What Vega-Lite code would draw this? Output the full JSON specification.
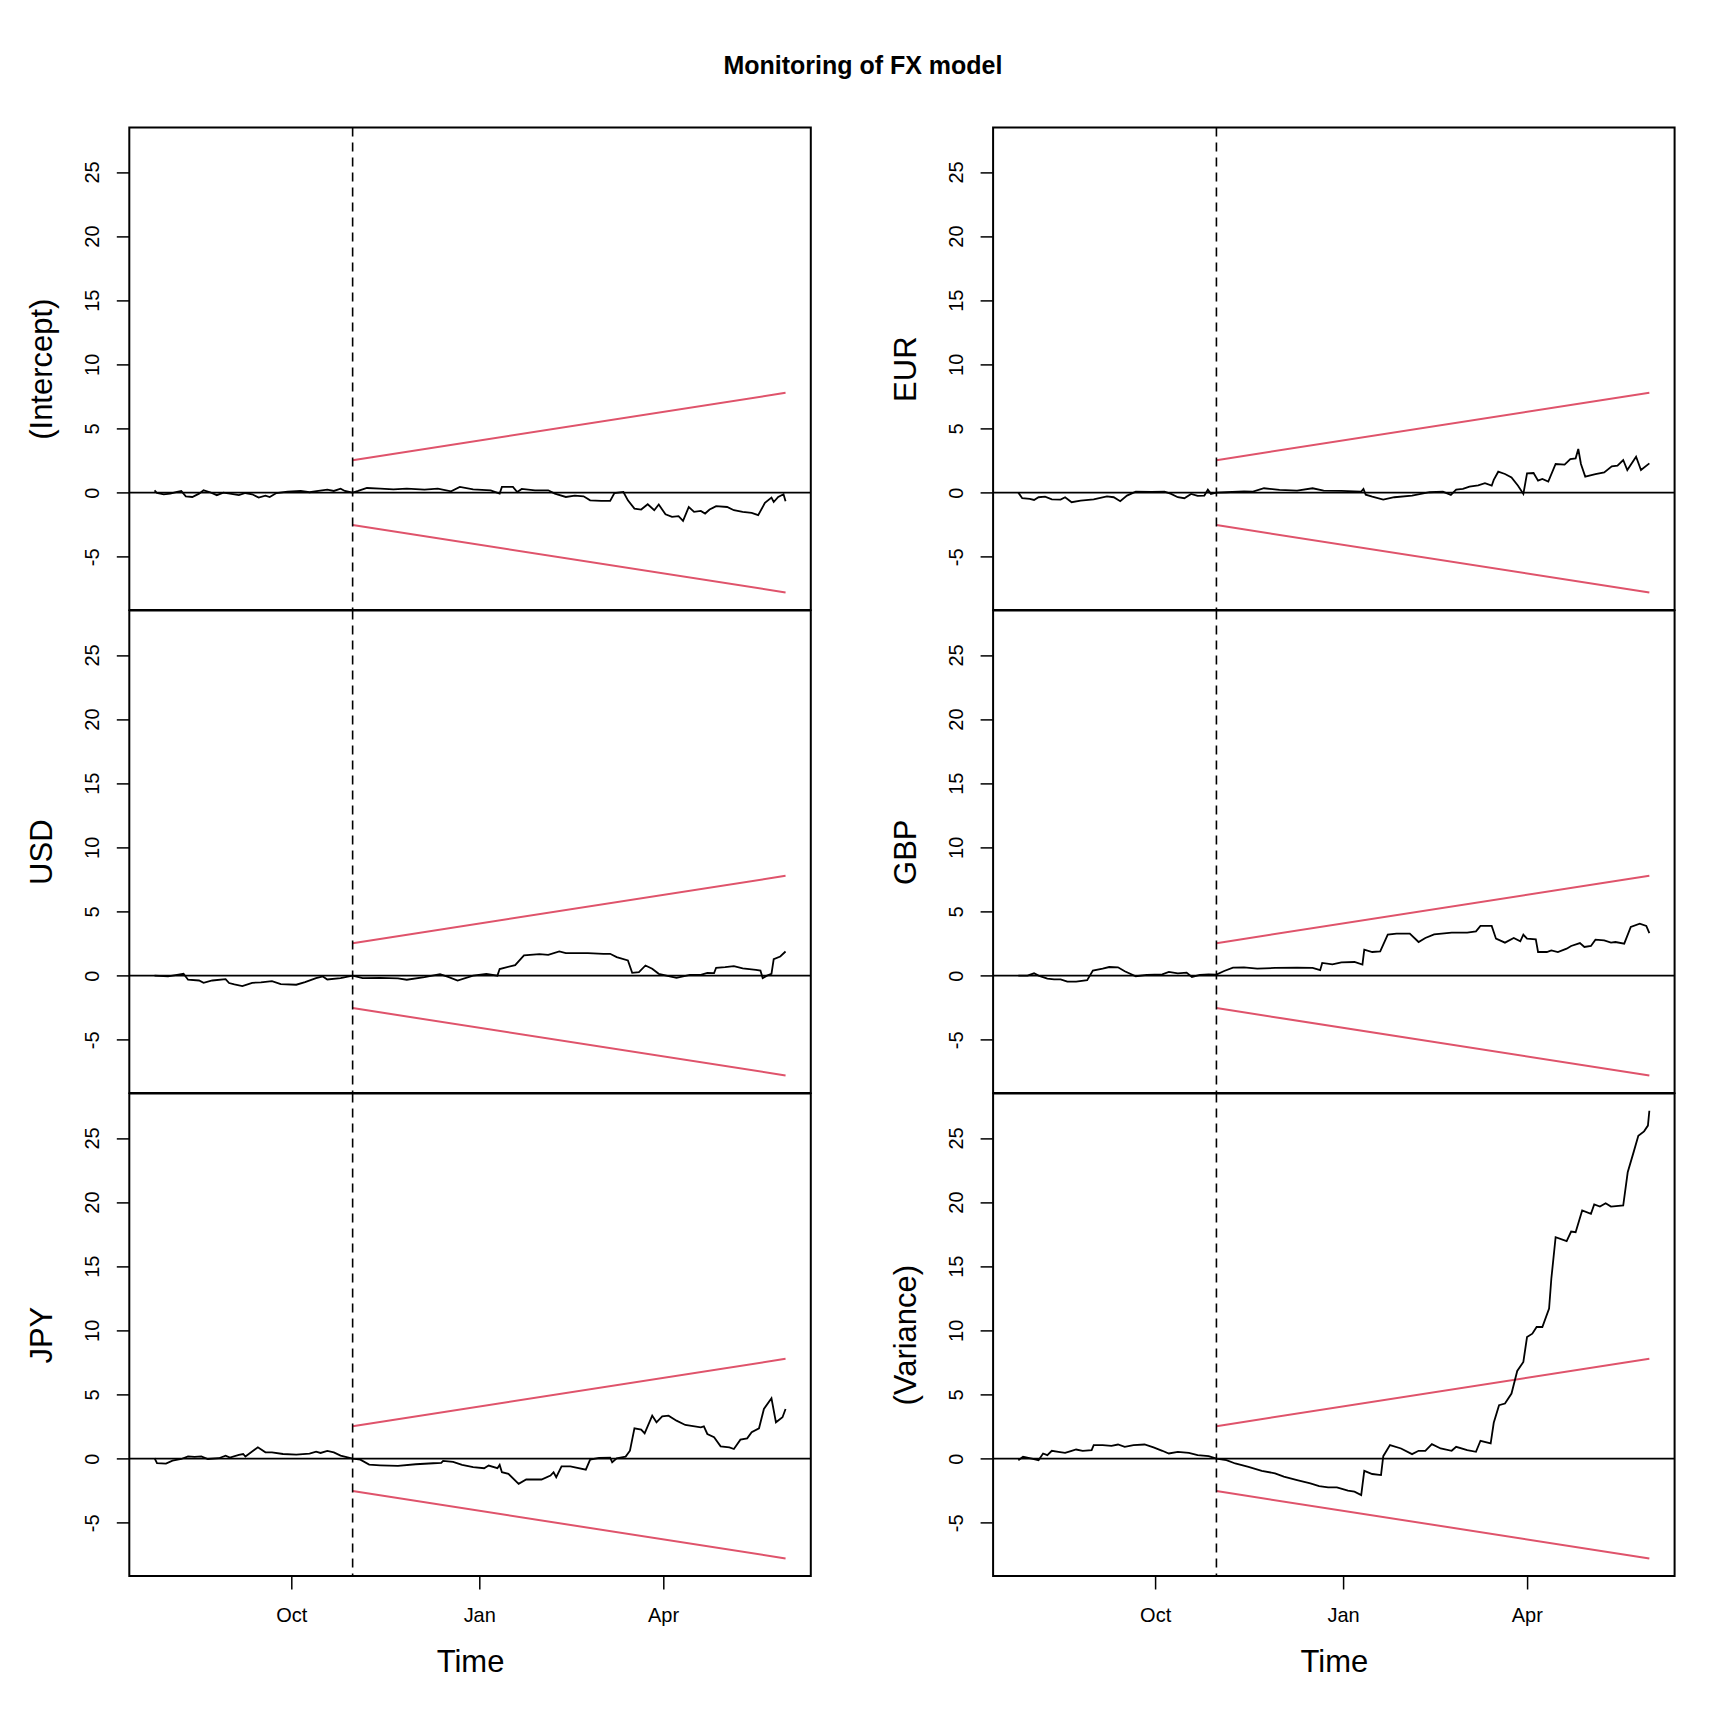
{
  "$schema": "https://vega.github.io/schema/vega-lite/v6.json",
  "background": "white",
  "padding": {"left": 25.3, "top": 53.4, "right": 10, "bottom": 10},
  "title": {
    "text": "Monitoring of FX model",
    "font": "Liberation Sans",
    "fontSize": 25,
    "fontWeight": "bold",
    "color": "black",
    "anchor": "middle",
    "baseline": "alphabetic",
    "offset": 26.7,
    "dx": 12
  },
  "config": {
    "view": {"stroke": "black", "strokeWidth": 2},
    "axis": {
      "labelFont": "Liberation Sans",
      "titleFont": "Liberation Sans",
      "labelFontSize": 20,
      "titleFontSize": 31,
      "titleFontWeight": "normal",
      "labelColor": "black",
      "titleColor": "black",
      "tickColor": "black",
      "tickSize": 13,
      "tickWidth": 1.5,
      "domain": false,
      "grid": false
    },
    "axisY": {
      "labelAngle": -90,
      "labelAlign": "center",
      "labelBaseline": "alphabetic",
      "labelPadding": 18,
      "titlePadding": 31,
      "titleBaseline": "alphabetic",
      "labelExpr": "datum.value < 0 ? '-' + abs(datum.value) : datum.label"
    },
    "axisX": {"labelPadding": 17, "titlePadding": 22}
  },
  "datasets": {
    "bound": [
      {"b": "upper", "d": 97, "v": 2.53},
      {"b": "upper", "d": 309, "v": 7.78},
      {"b": "lower", "d": 97, "v": -2.53},
      {"b": "lower", "d": 309, "v": -7.78}
    ],
    "fx": [
      {"p": "(Intercept)", "d": 0, "v": 0.18},
      {"p": "(Intercept)", "d": 1.2, "v": -0.03},
      {"p": "(Intercept)", "d": 4.5, "v": -0.13},
      {"p": "(Intercept)", "d": 7.7, "v": -0.08},
      {"p": "(Intercept)", "d": 11.0, "v": 0.05},
      {"p": "(Intercept)", "d": 13.1, "v": 0.13},
      {"p": "(Intercept)", "d": 15.3, "v": -0.29},
      {"p": "(Intercept)", "d": 18.5, "v": -0.34},
      {"p": "(Intercept)", "d": 21.8, "v": -0.08},
      {"p": "(Intercept)", "d": 24.0, "v": 0.18},
      {"p": "(Intercept)", "d": 27.2, "v": 0.03},
      {"p": "(Intercept)", "d": 30.5, "v": -0.2},
      {"p": "(Intercept)", "d": 33.7, "v": 0},
      {"p": "(Intercept)", "d": 36.9, "v": -0.08},
      {"p": "(Intercept)", "d": 41.3, "v": -0.2},
      {"p": "(Intercept)", "d": 44.5, "v": -0.03},
      {"p": "(Intercept)", "d": 47.8, "v": -0.13},
      {"p": "(Intercept)", "d": 51.0, "v": -0.39},
      {"p": "(Intercept)", "d": 54.3, "v": -0.23},
      {"p": "(Intercept)", "d": 56.4, "v": -0.34},
      {"p": "(Intercept)", "d": 59.7, "v": -0.03},
      {"p": "(Intercept)", "d": 65.1, "v": 0.08},
      {"p": "(Intercept)", "d": 71.6, "v": 0.13},
      {"p": "(Intercept)", "d": 75.9, "v": 0.03},
      {"p": "(Intercept)", "d": 80.2, "v": 0.13},
      {"p": "(Intercept)", "d": 84.6, "v": 0.23},
      {"p": "(Intercept)", "d": 87.8, "v": 0.13},
      {"p": "(Intercept)", "d": 91.1, "v": 0.31},
      {"p": "(Intercept)", "d": 93.2, "v": 0.13},
      {"p": "(Intercept)", "d": 97, "v": 0},
      {"p": "(Intercept)", "d": 99.7, "v": 0.13},
      {"p": "(Intercept)", "d": 104.0, "v": 0.36},
      {"p": "(Intercept)", "d": 110.5, "v": 0.31},
      {"p": "(Intercept)", "d": 117.0, "v": 0.26},
      {"p": "(Intercept)", "d": 123.5, "v": 0.31},
      {"p": "(Intercept)", "d": 132.2, "v": 0.23},
      {"p": "(Intercept)", "d": 138.7, "v": 0.31},
      {"p": "(Intercept)", "d": 145.2, "v": 0.1},
      {"p": "(Intercept)", "d": 149.5, "v": 0.44},
      {"p": "(Intercept)", "d": 156.0, "v": 0.26},
      {"p": "(Intercept)", "d": 164.6, "v": 0.18},
      {"p": "(Intercept)", "d": 169.0, "v": -0.08},
      {"p": "(Intercept)", "d": 170.1, "v": 0.44},
      {"p": "(Intercept)", "d": 175.5, "v": 0.44},
      {"p": "(Intercept)", "d": 177.6, "v": 0.05},
      {"p": "(Intercept)", "d": 179.8, "v": 0.29},
      {"p": "(Intercept)", "d": 186.3, "v": 0.18},
      {"p": "(Intercept)", "d": 192.8, "v": 0.18},
      {"p": "(Intercept)", "d": 196.0, "v": -0.08},
      {"p": "(Intercept)", "d": 201.4, "v": -0.34},
      {"p": "(Intercept)", "d": 205.8, "v": -0.23},
      {"p": "(Intercept)", "d": 210.1, "v": -0.29},
      {"p": "(Intercept)", "d": 213.3, "v": -0.6},
      {"p": "(Intercept)", "d": 218.7, "v": -0.65},
      {"p": "(Intercept)", "d": 223.1, "v": -0.65},
      {"p": "(Intercept)", "d": 225.2, "v": -0.03},
      {"p": "(Intercept)", "d": 229.6, "v": 0.05},
      {"p": "(Intercept)", "d": 231.8, "v": -0.6},
      {"p": "(Intercept)", "d": 235.0, "v": -1.25},
      {"p": "(Intercept)", "d": 238.3, "v": -1.32},
      {"p": "(Intercept)", "d": 241.5, "v": -0.91},
      {"p": "(Intercept)", "d": 244.7, "v": -1.37},
      {"p": "(Intercept)", "d": 246.9, "v": -0.93},
      {"p": "(Intercept)", "d": 250.2, "v": -1.69},
      {"p": "(Intercept)", "d": 253.4, "v": -1.89},
      {"p": "(Intercept)", "d": 256.6, "v": -1.84},
      {"p": "(Intercept)", "d": 258.8, "v": -2.2},
      {"p": "(Intercept)", "d": 261.6, "v": -1.12},
      {"p": "(Intercept)", "d": 264.2, "v": -1.5},
      {"p": "(Intercept)", "d": 267.5, "v": -1.43},
      {"p": "(Intercept)", "d": 269.6, "v": -1.63},
      {"p": "(Intercept)", "d": 271.8, "v": -1.32},
      {"p": "(Intercept)", "d": 275.0, "v": -1.06},
      {"p": "(Intercept)", "d": 280.4, "v": -1.12},
      {"p": "(Intercept)", "d": 283.7, "v": -1.37},
      {"p": "(Intercept)", "d": 288.0, "v": -1.5},
      {"p": "(Intercept)", "d": 292.4, "v": -1.58},
      {"p": "(Intercept)", "d": 295.6, "v": -1.76},
      {"p": "(Intercept)", "d": 298.9, "v": -0.8},
      {"p": "(Intercept)", "d": 302.1, "v": -0.39},
      {"p": "(Intercept)", "d": 303.2, "v": -0.73},
      {"p": "(Intercept)", "d": 305.4, "v": -0.34},
      {"p": "(Intercept)", "d": 308.0, "v": -0.13},
      {"p": "(Intercept)", "d": 309, "v": -0.67},

      {"p": "EUR", "d": 0, "v": 0},
      {"p": "EUR", "d": 1.9, "v": -0.44},
      {"p": "EUR", "d": 5.6, "v": -0.49},
      {"p": "EUR", "d": 7.7, "v": -0.57},
      {"p": "EUR", "d": 9.9, "v": -0.36},
      {"p": "EUR", "d": 13.1, "v": -0.31},
      {"p": "EUR", "d": 16.4, "v": -0.52},
      {"p": "EUR", "d": 20.7, "v": -0.54},
      {"p": "EUR", "d": 22.9, "v": -0.36},
      {"p": "EUR", "d": 26.1, "v": -0.75},
      {"p": "EUR", "d": 30.5, "v": -0.62},
      {"p": "EUR", "d": 36.9, "v": -0.52},
      {"p": "EUR", "d": 43.4, "v": -0.29},
      {"p": "EUR", "d": 46.7, "v": -0.36},
      {"p": "EUR", "d": 49.9, "v": -0.67},
      {"p": "EUR", "d": 53.2, "v": -0.23},
      {"p": "EUR", "d": 57.5, "v": 0.08},
      {"p": "EUR", "d": 65.1, "v": 0.05},
      {"p": "EUR", "d": 71.6, "v": 0.08},
      {"p": "EUR", "d": 74.8, "v": -0.1},
      {"p": "EUR", "d": 78.1, "v": -0.36},
      {"p": "EUR", "d": 81.3, "v": -0.44},
      {"p": "EUR", "d": 84.6, "v": -0.1},
      {"p": "EUR", "d": 87.8, "v": -0.26},
      {"p": "EUR", "d": 91.1, "v": -0.23},
      {"p": "EUR", "d": 92.8, "v": 0.23},
      {"p": "EUR", "d": 94.3, "v": -0.1},
      {"p": "EUR", "d": 97, "v": 0},
      {"p": "EUR", "d": 101.9, "v": 0.03},
      {"p": "EUR", "d": 110.5, "v": 0.1},
      {"p": "EUR", "d": 114.9, "v": 0.08},
      {"p": "EUR", "d": 120.3, "v": 0.34},
      {"p": "EUR", "d": 127.9, "v": 0.21},
      {"p": "EUR", "d": 136.5, "v": 0.16},
      {"p": "EUR", "d": 144.1, "v": 0.34},
      {"p": "EUR", "d": 149.5, "v": 0.16},
      {"p": "EUR", "d": 158.2, "v": 0.13},
      {"p": "EUR", "d": 167.9, "v": 0.08},
      {"p": "EUR", "d": 169.0, "v": 0.29},
      {"p": "EUR", "d": 170.1, "v": -0.16},
      {"p": "EUR", "d": 173.3, "v": -0.31},
      {"p": "EUR", "d": 178.7, "v": -0.54},
      {"p": "EUR", "d": 184.1, "v": -0.36},
      {"p": "EUR", "d": 192.8, "v": -0.23},
      {"p": "EUR", "d": 201.4, "v": 0.03},
      {"p": "EUR", "d": 207.9, "v": 0.08},
      {"p": "EUR", "d": 211.8, "v": -0.18},
      {"p": "EUR", "d": 214.4, "v": 0.23},
      {"p": "EUR", "d": 217.7, "v": 0.29},
      {"p": "EUR", "d": 220.9, "v": 0.47},
      {"p": "EUR", "d": 225.2, "v": 0.57},
      {"p": "EUR", "d": 228.5, "v": 0.73},
      {"p": "EUR", "d": 231.8, "v": 0.54},
      {"p": "EUR", "d": 232.8, "v": 0.99},
      {"p": "EUR", "d": 235.0, "v": 1.63},
      {"p": "EUR", "d": 238.3, "v": 1.45},
      {"p": "EUR", "d": 241.5, "v": 1.19},
      {"p": "EUR", "d": 244.7, "v": 0.54},
      {"p": "EUR", "d": 247.3, "v": -0.1},
      {"p": "EUR", "d": 249.1, "v": 1.5},
      {"p": "EUR", "d": 252.3, "v": 1.53},
      {"p": "EUR", "d": 254.5, "v": 0.93},
      {"p": "EUR", "d": 256.6, "v": 1.06},
      {"p": "EUR", "d": 259.5, "v": 0.86},
      {"p": "EUR", "d": 263.1, "v": 2.23},
      {"p": "EUR", "d": 267.5, "v": 2.18},
      {"p": "EUR", "d": 270.3, "v": 2.62},
      {"p": "EUR", "d": 272.9, "v": 2.67},
      {"p": "EUR", "d": 274.2, "v": 3.4},
      {"p": "EUR", "d": 275.5, "v": 2.23},
      {"p": "EUR", "d": 277.6, "v": 1.25},
      {"p": "EUR", "d": 282.6, "v": 1.45},
      {"p": "EUR", "d": 286.9, "v": 1.58},
      {"p": "EUR", "d": 290.6, "v": 2.05},
      {"p": "EUR", "d": 293.4, "v": 2.1},
      {"p": "EUR", "d": 296.2, "v": 2.54},
      {"p": "EUR", "d": 298.2, "v": 1.76},
      {"p": "EUR", "d": 302.5, "v": 2.8},
      {"p": "EUR", "d": 304.9, "v": 1.76},
      {"p": "EUR", "d": 309, "v": 2.28},

      {"p": "USD", "d": 0, "v": 0},
      {"p": "USD", "d": 6.6, "v": -0.06},
      {"p": "USD", "d": 11.0, "v": 0.06},
      {"p": "USD", "d": 14.2, "v": 0.14},
      {"p": "USD", "d": 16.4, "v": -0.32},
      {"p": "USD", "d": 21.8, "v": -0.38},
      {"p": "USD", "d": 24.0, "v": -0.56},
      {"p": "USD", "d": 28.3, "v": -0.38},
      {"p": "USD", "d": 34.8, "v": -0.27},
      {"p": "USD", "d": 36.5, "v": -0.58},
      {"p": "USD", "d": 39.1, "v": -0.69},
      {"p": "USD", "d": 43.0, "v": -0.82},
      {"p": "USD", "d": 47.8, "v": -0.56},
      {"p": "USD", "d": 52.1, "v": -0.53},
      {"p": "USD", "d": 57.5, "v": -0.43},
      {"p": "USD", "d": 61.8, "v": -0.66},
      {"p": "USD", "d": 69.4, "v": -0.71},
      {"p": "USD", "d": 73.7, "v": -0.51},
      {"p": "USD", "d": 79.1, "v": -0.19},
      {"p": "USD", "d": 82.4, "v": -0.06},
      {"p": "USD", "d": 84.6, "v": -0.3},
      {"p": "USD", "d": 91.1, "v": -0.19},
      {"p": "USD", "d": 97, "v": 0},
      {"p": "USD", "d": 101.9, "v": -0.19},
      {"p": "USD", "d": 110.5, "v": -0.17},
      {"p": "USD", "d": 119.2, "v": -0.22},
      {"p": "USD", "d": 123.5, "v": -0.32},
      {"p": "USD", "d": 132.2, "v": -0.12},
      {"p": "USD", "d": 139.8, "v": 0.12},
      {"p": "USD", "d": 144.1, "v": -0.12},
      {"p": "USD", "d": 148.4, "v": -0.38},
      {"p": "USD", "d": 156.0, "v": 0},
      {"p": "USD", "d": 162.5, "v": 0.14},
      {"p": "USD", "d": 167.9, "v": 0},
      {"p": "USD", "d": 169.0, "v": 0.51},
      {"p": "USD", "d": 176.6, "v": 0.82},
      {"p": "USD", "d": 180.9, "v": 1.57},
      {"p": "USD", "d": 188.5, "v": 1.67},
      {"p": "USD", "d": 192.8, "v": 1.62},
      {"p": "USD", "d": 198.2, "v": 1.88},
      {"p": "USD", "d": 201.4, "v": 1.75},
      {"p": "USD", "d": 212.2, "v": 1.75},
      {"p": "USD", "d": 219.8, "v": 1.7},
      {"p": "USD", "d": 223.1, "v": 1.7},
      {"p": "USD", "d": 226.3, "v": 1.44},
      {"p": "USD", "d": 231.8, "v": 1.18},
      {"p": "USD", "d": 233.9, "v": 0.22},
      {"p": "USD", "d": 237.2, "v": 0.27},
      {"p": "USD", "d": 240.4, "v": 0.79},
      {"p": "USD", "d": 243.7, "v": 0.53},
      {"p": "USD", "d": 246.9, "v": 0.14},
      {"p": "USD", "d": 252.3, "v": -0.06},
      {"p": "USD", "d": 255.6, "v": -0.17},
      {"p": "USD", "d": 262.1, "v": 0.06},
      {"p": "USD", "d": 267.5, "v": 0.06},
      {"p": "USD", "d": 270.7, "v": 0.22},
      {"p": "USD", "d": 274.0, "v": 0.19},
      {"p": "USD", "d": 275.0, "v": 0.61},
      {"p": "USD", "d": 279.4, "v": 0.66},
      {"p": "USD", "d": 283.7, "v": 0.74},
      {"p": "USD", "d": 288.0, "v": 0.56},
      {"p": "USD", "d": 294.5, "v": 0.45},
      {"p": "USD", "d": 296.7, "v": 0.4},
      {"p": "USD", "d": 297.8, "v": -0.19},
      {"p": "USD", "d": 299.9, "v": 0},
      {"p": "USD", "d": 302.1, "v": 0.14},
      {"p": "USD", "d": 303.2, "v": 1.28},
      {"p": "USD", "d": 306.4, "v": 1.49},
      {"p": "USD", "d": 309, "v": 1.88},

      {"p": "GBP", "d": 0, "v": 0},
      {"p": "GBP", "d": 4.5, "v": 0},
      {"p": "GBP", "d": 7.7, "v": 0.18},
      {"p": "GBP", "d": 9.9, "v": 0},
      {"p": "GBP", "d": 14.2, "v": -0.23},
      {"p": "GBP", "d": 17.5, "v": -0.29},
      {"p": "GBP", "d": 20.7, "v": -0.29},
      {"p": "GBP", "d": 24.0, "v": -0.47},
      {"p": "GBP", "d": 28.3, "v": -0.47},
      {"p": "GBP", "d": 33.7, "v": -0.36},
      {"p": "GBP", "d": 36.5, "v": 0.39},
      {"p": "GBP", "d": 41.3, "v": 0.54},
      {"p": "GBP", "d": 44.5, "v": 0.67},
      {"p": "GBP", "d": 48.8, "v": 0.65},
      {"p": "GBP", "d": 52.1, "v": 0.34},
      {"p": "GBP", "d": 57.5, "v": -0.05},
      {"p": "GBP", "d": 62.9, "v": 0.05},
      {"p": "GBP", "d": 70.5, "v": 0.1},
      {"p": "GBP", "d": 73.7, "v": 0.29},
      {"p": "GBP", "d": 78.1, "v": 0.18},
      {"p": "GBP", "d": 82.4, "v": 0.23},
      {"p": "GBP", "d": 85.0, "v": -0.1},
      {"p": "GBP", "d": 88.9, "v": 0.05},
      {"p": "GBP", "d": 93.2, "v": 0.1},
      {"p": "GBP", "d": 97, "v": 0.08},
      {"p": "GBP", "d": 100.8, "v": 0.36},
      {"p": "GBP", "d": 105.1, "v": 0.62},
      {"p": "GBP", "d": 110.5, "v": 0.65},
      {"p": "GBP", "d": 117.0, "v": 0.54},
      {"p": "GBP", "d": 125.7, "v": 0.6},
      {"p": "GBP", "d": 136.5, "v": 0.62},
      {"p": "GBP", "d": 144.1, "v": 0.6},
      {"p": "GBP", "d": 147.8, "v": 0.42},
      {"p": "GBP", "d": 148.8, "v": 0.99},
      {"p": "GBP", "d": 153.8, "v": 0.88},
      {"p": "GBP", "d": 158.2, "v": 1.04},
      {"p": "GBP", "d": 164.6, "v": 1.06},
      {"p": "GBP", "d": 168.5, "v": 0.86},
      {"p": "GBP", "d": 169.4, "v": 2.02},
      {"p": "GBP", "d": 173.3, "v": 1.84},
      {"p": "GBP", "d": 177.2, "v": 1.89},
      {"p": "GBP", "d": 180.9, "v": 3.19},
      {"p": "GBP", "d": 185.2, "v": 3.27},
      {"p": "GBP", "d": 191.7, "v": 3.27},
      {"p": "GBP", "d": 196.0, "v": 2.62},
      {"p": "GBP", "d": 199.3, "v": 2.93},
      {"p": "GBP", "d": 203.6, "v": 3.22},
      {"p": "GBP", "d": 212.2, "v": 3.35},
      {"p": "GBP", "d": 219.8, "v": 3.35},
      {"p": "GBP", "d": 224.1, "v": 3.45},
      {"p": "GBP", "d": 226.3, "v": 3.87},
      {"p": "GBP", "d": 231.8, "v": 3.87},
      {"p": "GBP", "d": 233.9, "v": 2.88},
      {"p": "GBP", "d": 238.3, "v": 2.57},
      {"p": "GBP", "d": 242.6, "v": 2.93},
      {"p": "GBP", "d": 245.8, "v": 2.67},
      {"p": "GBP", "d": 247.3, "v": 3.19},
      {"p": "GBP", "d": 249.1, "v": 2.88},
      {"p": "GBP", "d": 253.4, "v": 2.83},
      {"p": "GBP", "d": 254.5, "v": 1.84},
      {"p": "GBP", "d": 258.8, "v": 1.84},
      {"p": "GBP", "d": 261.0, "v": 1.97},
      {"p": "GBP", "d": 264.2, "v": 1.84},
      {"p": "GBP", "d": 268.5, "v": 2.1},
      {"p": "GBP", "d": 270.7, "v": 2.31},
      {"p": "GBP", "d": 275.0, "v": 2.54},
      {"p": "GBP", "d": 277.2, "v": 2.23},
      {"p": "GBP", "d": 280.4, "v": 2.31},
      {"p": "GBP", "d": 282.6, "v": 2.8},
      {"p": "GBP", "d": 286.9, "v": 2.75},
      {"p": "GBP", "d": 290.2, "v": 2.57},
      {"p": "GBP", "d": 292.4, "v": 2.62},
      {"p": "GBP", "d": 296.7, "v": 2.49},
      {"p": "GBP", "d": 299.9, "v": 3.79},
      {"p": "GBP", "d": 304.3, "v": 4.05},
      {"p": "GBP", "d": 307.5, "v": 3.87},
      {"p": "GBP", "d": 309, "v": 3.32},

      {"p": "JPY", "d": 0, "v": 0.03},
      {"p": "JPY", "d": 1.2, "v": -0.36},
      {"p": "JPY", "d": 5.6, "v": -0.39},
      {"p": "JPY", "d": 8.8, "v": -0.16},
      {"p": "JPY", "d": 13.1, "v": -0.03},
      {"p": "JPY", "d": 16.4, "v": 0.18},
      {"p": "JPY", "d": 19.6, "v": 0.13},
      {"p": "JPY", "d": 22.9, "v": 0.18},
      {"p": "JPY", "d": 26.1, "v": -0.03},
      {"p": "JPY", "d": 31.5, "v": 0.03},
      {"p": "JPY", "d": 34.8, "v": 0.23},
      {"p": "JPY", "d": 36.9, "v": 0.08},
      {"p": "JPY", "d": 41.3, "v": 0.29},
      {"p": "JPY", "d": 43.4, "v": 0.36},
      {"p": "JPY", "d": 44.5, "v": 0.16},
      {"p": "JPY", "d": 50.6, "v": 0.88},
      {"p": "JPY", "d": 54.3, "v": 0.49},
      {"p": "JPY", "d": 57.5, "v": 0.49},
      {"p": "JPY", "d": 62.9, "v": 0.36},
      {"p": "JPY", "d": 69.4, "v": 0.31},
      {"p": "JPY", "d": 75.9, "v": 0.39},
      {"p": "JPY", "d": 79.1, "v": 0.54},
      {"p": "JPY", "d": 81.3, "v": 0.44},
      {"p": "JPY", "d": 84.6, "v": 0.6},
      {"p": "JPY", "d": 87.8, "v": 0.49},
      {"p": "JPY", "d": 91.1, "v": 0.23},
      {"p": "JPY", "d": 97, "v": 0},
      {"p": "JPY", "d": 100.8, "v": -0.08},
      {"p": "JPY", "d": 105.1, "v": -0.47},
      {"p": "JPY", "d": 110.5, "v": -0.52},
      {"p": "JPY", "d": 119.2, "v": -0.57},
      {"p": "JPY", "d": 127.9, "v": -0.44},
      {"p": "JPY", "d": 136.5, "v": -0.36},
      {"p": "JPY", "d": 140.4, "v": -0.34},
      {"p": "JPY", "d": 141.3, "v": -0.18},
      {"p": "JPY", "d": 146.2, "v": -0.26},
      {"p": "JPY", "d": 150.6, "v": -0.49},
      {"p": "JPY", "d": 156.0, "v": -0.67},
      {"p": "JPY", "d": 161.4, "v": -0.75},
      {"p": "JPY", "d": 163.6, "v": -0.54},
      {"p": "JPY", "d": 167.9, "v": -0.75},
      {"p": "JPY", "d": 169.0, "v": -0.49},
      {"p": "JPY", "d": 170.1, "v": -1.06},
      {"p": "JPY", "d": 173.3, "v": -1.19},
      {"p": "JPY", "d": 178.3, "v": -1.97},
      {"p": "JPY", "d": 182.0, "v": -1.63},
      {"p": "JPY", "d": 189.5, "v": -1.63},
      {"p": "JPY", "d": 193.9, "v": -1.32},
      {"p": "JPY", "d": 195.4, "v": -1.06},
      {"p": "JPY", "d": 196.7, "v": -1.45},
      {"p": "JPY", "d": 199.3, "v": -0.6},
      {"p": "JPY", "d": 203.6, "v": -0.6},
      {"p": "JPY", "d": 211.2, "v": -0.86},
      {"p": "JPY", "d": 213.3, "v": -0.08},
      {"p": "JPY", "d": 217.7, "v": 0.05},
      {"p": "JPY", "d": 223.1, "v": 0.08},
      {"p": "JPY", "d": 224.1, "v": -0.29},
      {"p": "JPY", "d": 226.3, "v": 0.03},
      {"p": "JPY", "d": 230.7, "v": 0.16},
      {"p": "JPY", "d": 232.8, "v": 0.62},
      {"p": "JPY", "d": 235.0, "v": 2.36},
      {"p": "JPY", "d": 238.3, "v": 2.26},
      {"p": "JPY", "d": 240.0, "v": 1.97},
      {"p": "JPY", "d": 243.7, "v": 3.35},
      {"p": "JPY", "d": 245.8, "v": 2.83},
      {"p": "JPY", "d": 248.6, "v": 3.29},
      {"p": "JPY", "d": 251.7, "v": 3.35},
      {"p": "JPY", "d": 255.6, "v": 2.96},
      {"p": "JPY", "d": 259.9, "v": 2.62},
      {"p": "JPY", "d": 267.5, "v": 2.44},
      {"p": "JPY", "d": 269.0, "v": 2.52},
      {"p": "JPY", "d": 270.7, "v": 1.92},
      {"p": "JPY", "d": 274.0, "v": 1.66},
      {"p": "JPY", "d": 277.2, "v": 0.96},
      {"p": "JPY", "d": 281.5, "v": 0.88},
      {"p": "JPY", "d": 283.7, "v": 0.75},
      {"p": "JPY", "d": 286.9, "v": 1.48},
      {"p": "JPY", "d": 290.2, "v": 1.58},
      {"p": "JPY", "d": 292.4, "v": 2.05},
      {"p": "JPY", "d": 296.0, "v": 2.36},
      {"p": "JPY", "d": 298.4, "v": 3.87},
      {"p": "JPY", "d": 302.1, "v": 4.7},
      {"p": "JPY", "d": 304.3, "v": 2.83},
      {"p": "JPY", "d": 307.5, "v": 3.22},
      {"p": "JPY", "d": 309, "v": 3.87},

      {"p": "(Variance)", "d": 0, "v": -0.12},
      {"p": "(Variance)", "d": 2.3, "v": 0.14},
      {"p": "(Variance)", "d": 6.6, "v": 0},
      {"p": "(Variance)", "d": 9.9, "v": -0.12},
      {"p": "(Variance)", "d": 12.1, "v": 0.4},
      {"p": "(Variance)", "d": 14.2, "v": 0.27},
      {"p": "(Variance)", "d": 16.4, "v": 0.61},
      {"p": "(Variance)", "d": 19.6, "v": 0.53},
      {"p": "(Variance)", "d": 22.9, "v": 0.45},
      {"p": "(Variance)", "d": 26.1, "v": 0.61},
      {"p": "(Variance)", "d": 28.3, "v": 0.71},
      {"p": "(Variance)", "d": 31.5, "v": 0.61},
      {"p": "(Variance)", "d": 35.9, "v": 0.66},
      {"p": "(Variance)", "d": 36.9, "v": 1.05},
      {"p": "(Variance)", "d": 41.3, "v": 1.05},
      {"p": "(Variance)", "d": 45.6, "v": 1.0},
      {"p": "(Variance)", "d": 48.8, "v": 1.1},
      {"p": "(Variance)", "d": 52.1, "v": 0.92},
      {"p": "(Variance)", "d": 56.4, "v": 1.05},
      {"p": "(Variance)", "d": 61.8, "v": 1.1},
      {"p": "(Variance)", "d": 66.2, "v": 0.87},
      {"p": "(Variance)", "d": 70.5, "v": 0.61},
      {"p": "(Variance)", "d": 73.7, "v": 0.4},
      {"p": "(Variance)", "d": 78.1, "v": 0.53},
      {"p": "(Variance)", "d": 83.5, "v": 0.45},
      {"p": "(Variance)", "d": 87.8, "v": 0.27},
      {"p": "(Variance)", "d": 93.2, "v": 0.19},
      {"p": "(Variance)", "d": 97, "v": 0},
      {"p": "(Variance)", "d": 101.9, "v": -0.12},
      {"p": "(Variance)", "d": 106.2, "v": -0.38},
      {"p": "(Variance)", "d": 112.7, "v": -0.64},
      {"p": "(Variance)", "d": 119.2, "v": -0.95},
      {"p": "(Variance)", "d": 125.7, "v": -1.15},
      {"p": "(Variance)", "d": 130.0, "v": -1.41},
      {"p": "(Variance)", "d": 136.5, "v": -1.67},
      {"p": "(Variance)", "d": 143.0, "v": -1.93},
      {"p": "(Variance)", "d": 147.3, "v": -2.14},
      {"p": "(Variance)", "d": 151.7, "v": -2.24},
      {"p": "(Variance)", "d": 156.0, "v": -2.24},
      {"p": "(Variance)", "d": 161.4, "v": -2.5},
      {"p": "(Variance)", "d": 164.6, "v": -2.58},
      {"p": "(Variance)", "d": 167.9, "v": -2.84},
      {"p": "(Variance)", "d": 169.4, "v": -0.95},
      {"p": "(Variance)", "d": 173.3, "v": -1.2},
      {"p": "(Variance)", "d": 177.6, "v": -1.28},
      {"p": "(Variance)", "d": 178.7, "v": 0.19},
      {"p": "(Variance)", "d": 182.0, "v": 1.05},
      {"p": "(Variance)", "d": 187.4, "v": 0.79},
      {"p": "(Variance)", "d": 192.8, "v": 0.35},
      {"p": "(Variance)", "d": 196.0, "v": 0.61},
      {"p": "(Variance)", "d": 199.3, "v": 0.61},
      {"p": "(Variance)", "d": 202.5, "v": 1.13},
      {"p": "(Variance)", "d": 206.8, "v": 0.79},
      {"p": "(Variance)", "d": 212.2, "v": 0.61},
      {"p": "(Variance)", "d": 214.4, "v": 0.92},
      {"p": "(Variance)", "d": 219.8, "v": 0.66},
      {"p": "(Variance)", "d": 224.1, "v": 0.53},
      {"p": "(Variance)", "d": 226.3, "v": 1.39},
      {"p": "(Variance)", "d": 231.3, "v": 1.18},
      {"p": "(Variance)", "d": 232.8, "v": 2.79},
      {"p": "(Variance)", "d": 235.4, "v": 4.16},
      {"p": "(Variance)", "d": 238.3, "v": 4.29},
      {"p": "(Variance)", "d": 241.5, "v": 5.07},
      {"p": "(Variance)", "d": 244.3, "v": 6.83},
      {"p": "(Variance)", "d": 247.3, "v": 7.54},
      {"p": "(Variance)", "d": 249.1, "v": 9.48},
      {"p": "(Variance)", "d": 251.7, "v": 9.74},
      {"p": "(Variance)", "d": 253.8, "v": 10.26},
      {"p": "(Variance)", "d": 256.6, "v": 10.26},
      {"p": "(Variance)", "d": 259.9, "v": 11.69},
      {"p": "(Variance)", "d": 261.0, "v": 14.02},
      {"p": "(Variance)", "d": 263.1, "v": 17.26},
      {"p": "(Variance)", "d": 268.5, "v": 16.95},
      {"p": "(Variance)", "d": 270.7, "v": 17.7},
      {"p": "(Variance)", "d": 272.9, "v": 17.65},
      {"p": "(Variance)", "d": 276.1, "v": 19.34},
      {"p": "(Variance)", "d": 280.4, "v": 19.08},
      {"p": "(Variance)", "d": 282.0, "v": 19.81},
      {"p": "(Variance)", "d": 284.8, "v": 19.65},
      {"p": "(Variance)", "d": 287.6, "v": 19.91},
      {"p": "(Variance)", "d": 290.2, "v": 19.65},
      {"p": "(Variance)", "d": 296.2, "v": 19.73},
      {"p": "(Variance)", "d": 298.4, "v": 22.32},
      {"p": "(Variance)", "d": 301.4, "v": 23.95},
      {"p": "(Variance)", "d": 303.6, "v": 25.17},
      {"p": "(Variance)", "d": 306.4, "v": 25.51},
      {"p": "(Variance)", "d": 308.3, "v": 25.96},
      {"p": "(Variance)", "d": 309, "v": 27.12}
    ]
  },
  "spacing": 75.8,
  "hconcat": [
    {
      "spacing": 0,
      "bounds": "flush",
      "vconcat": [
        {
          "width": 681.5,
          "height": 482.6,
          "layer": [
            {"data": {"name": "bound"}, "mark": {"type": "line", "color": "#DF536B", "strokeWidth": 2},
             "encoding": {
               "x": {"field": "d", "type": "quantitative", "scale": {"domain": [-12.36, 321.36], "nice": false, "zero": false}, "axis": null},
               "y": {"field": "v", "type": "quantitative", "scale": {"domain": [-9.15, 28.47], "nice": false, "zero": false}, "axis": {"values": [-5, 0, 5, 10, 15, 20, 25], "title": "(Intercept)"}},
               "detail": {"field": "b"}}},
            {"data": {"name": "fx"}, "transform": [{"filter": "datum.p === '(Intercept)'"}], "mark": {"type": "line", "color": "black", "strokeWidth": 1.8},
             "encoding": {"x": {"field": "d", "type": "quantitative", "axis": null}, "y": {"field": "v", "type": "quantitative"}}},
            {"data": {"values": [{}]}, "mark": {"type": "rule", "color": "black", "strokeWidth": 1.8}, "encoding": {"y": {"datum": 0}}},
            {"data": {"values": [{}]}, "mark": {"type": "rule", "color": "black", "strokeWidth": 1.6, "strokeDash": [9, 6]}, "encoding": {"x": {"datum": 97, "axis": null}}}
          ]
        },
        {
          "width": 681.5,
          "height": 482.6,
          "layer": [
            {"data": {"name": "bound"}, "mark": {"type": "line", "color": "#DF536B", "strokeWidth": 2},
             "encoding": {
               "x": {"field": "d", "type": "quantitative", "scale": {"domain": [-12.36, 321.36], "nice": false, "zero": false}, "axis": null},
               "y": {"field": "v", "type": "quantitative", "scale": {"domain": [-9.15, 28.47], "nice": false, "zero": false}, "axis": {"values": [-5, 0, 5, 10, 15, 20, 25], "title": "USD"}},
               "detail": {"field": "b"}}},
            {"data": {"name": "fx"}, "transform": [{"filter": "datum.p === 'USD'"}], "mark": {"type": "line", "color": "black", "strokeWidth": 1.8},
             "encoding": {"x": {"field": "d", "type": "quantitative", "axis": null}, "y": {"field": "v", "type": "quantitative"}}},
            {"data": {"values": [{}]}, "mark": {"type": "rule", "color": "black", "strokeWidth": 1.8}, "encoding": {"y": {"datum": 0}}},
            {"data": {"values": [{}]}, "mark": {"type": "rule", "color": "black", "strokeWidth": 1.6, "strokeDash": [9, 6]}, "encoding": {"x": {"datum": 97, "axis": null}}}
          ]
        },
        {
          "width": 681.5,
          "height": 482.6,
          "layer": [
            {"data": {"name": "bound"}, "mark": {"type": "line", "color": "#DF536B", "strokeWidth": 2},
             "encoding": {
               "x": {"field": "d", "type": "quantitative", "scale": {"domain": [-12.36, 321.36], "nice": false, "zero": false},
                     "axis": {"values": [67, 159, 249], "labelExpr": "datum.value == 67 ? 'Oct' : datum.value == 159 ? 'Jan' : 'Apr'", "title": "Time"}},
               "y": {"field": "v", "type": "quantitative", "scale": {"domain": [-9.15, 28.47], "nice": false, "zero": false}, "axis": {"values": [-5, 0, 5, 10, 15, 20, 25], "title": "JPY"}},
               "detail": {"field": "b"}}},
            {"data": {"name": "fx"}, "transform": [{"filter": "datum.p === 'JPY'"}], "mark": {"type": "line", "color": "black", "strokeWidth": 1.8},
             "encoding": {"x": {"field": "d", "type": "quantitative"}, "y": {"field": "v", "type": "quantitative"}}},
            {"data": {"values": [{}]}, "mark": {"type": "rule", "color": "black", "strokeWidth": 1.8}, "encoding": {"y": {"datum": 0}}},
            {"data": {"values": [{}]}, "mark": {"type": "rule", "color": "black", "strokeWidth": 1.6, "strokeDash": [9, 6]}, "encoding": {"x": {"datum": 97}}}
          ]
        }
      ]
    },
    {
      "spacing": 0,
      "bounds": "flush",
      "vconcat": [
        {
          "width": 681.5,
          "height": 482.6,
          "layer": [
            {"data": {"name": "bound"}, "mark": {"type": "line", "color": "#DF536B", "strokeWidth": 2},
             "encoding": {
               "x": {"field": "d", "type": "quantitative", "scale": {"domain": [-12.36, 321.36], "nice": false, "zero": false}, "axis": null},
               "y": {"field": "v", "type": "quantitative", "scale": {"domain": [-9.15, 28.47], "nice": false, "zero": false}, "axis": {"values": [-5, 0, 5, 10, 15, 20, 25], "title": "EUR"}},
               "detail": {"field": "b"}}},
            {"data": {"name": "fx"}, "transform": [{"filter": "datum.p === 'EUR'"}], "mark": {"type": "line", "color": "black", "strokeWidth": 1.8},
             "encoding": {"x": {"field": "d", "type": "quantitative", "axis": null}, "y": {"field": "v", "type": "quantitative"}}},
            {"data": {"values": [{}]}, "mark": {"type": "rule", "color": "black", "strokeWidth": 1.8}, "encoding": {"y": {"datum": 0}}},
            {"data": {"values": [{}]}, "mark": {"type": "rule", "color": "black", "strokeWidth": 1.6, "strokeDash": [9, 6]}, "encoding": {"x": {"datum": 97, "axis": null}}}
          ]
        },
        {
          "width": 681.5,
          "height": 482.6,
          "layer": [
            {"data": {"name": "bound"}, "mark": {"type": "line", "color": "#DF536B", "strokeWidth": 2},
             "encoding": {
               "x": {"field": "d", "type": "quantitative", "scale": {"domain": [-12.36, 321.36], "nice": false, "zero": false}, "axis": null},
               "y": {"field": "v", "type": "quantitative", "scale": {"domain": [-9.15, 28.47], "nice": false, "zero": false}, "axis": {"values": [-5, 0, 5, 10, 15, 20, 25], "title": "GBP"}},
               "detail": {"field": "b"}}},
            {"data": {"name": "fx"}, "transform": [{"filter": "datum.p === 'GBP'"}], "mark": {"type": "line", "color": "black", "strokeWidth": 1.8},
             "encoding": {"x": {"field": "d", "type": "quantitative", "axis": null}, "y": {"field": "v", "type": "quantitative"}}},
            {"data": {"values": [{}]}, "mark": {"type": "rule", "color": "black", "strokeWidth": 1.8}, "encoding": {"y": {"datum": 0}}},
            {"data": {"values": [{}]}, "mark": {"type": "rule", "color": "black", "strokeWidth": 1.6, "strokeDash": [9, 6]}, "encoding": {"x": {"datum": 97, "axis": null}}}
          ]
        },
        {
          "width": 681.5,
          "height": 482.6,
          "layer": [
            {"data": {"name": "bound"}, "mark": {"type": "line", "color": "#DF536B", "strokeWidth": 2},
             "encoding": {
               "x": {"field": "d", "type": "quantitative", "scale": {"domain": [-12.36, 321.36], "nice": false, "zero": false},
                     "axis": {"values": [67, 159, 249], "labelExpr": "datum.value == 67 ? 'Oct' : datum.value == 159 ? 'Jan' : 'Apr'", "title": "Time"}},
               "y": {"field": "v", "type": "quantitative", "scale": {"domain": [-9.15, 28.47], "nice": false, "zero": false}, "axis": {"values": [-5, 0, 5, 10, 15, 20, 25], "title": "(Variance)"}},
               "detail": {"field": "b"}}},
            {"data": {"name": "fx"}, "transform": [{"filter": "datum.p === '(Variance)'"}], "mark": {"type": "line", "color": "black", "strokeWidth": 1.8},
             "encoding": {"x": {"field": "d", "type": "quantitative"}, "y": {"field": "v", "type": "quantitative"}}},
            {"data": {"values": [{}]}, "mark": {"type": "rule", "color": "black", "strokeWidth": 1.8}, "encoding": {"y": {"datum": 0}}},
            {"data": {"values": [{}]}, "mark": {"type": "rule", "color": "black", "strokeWidth": 1.6, "strokeDash": [9, 6]}, "encoding": {"x": {"datum": 97}}}
          ]
        }
      ]
    }
  ]
}
